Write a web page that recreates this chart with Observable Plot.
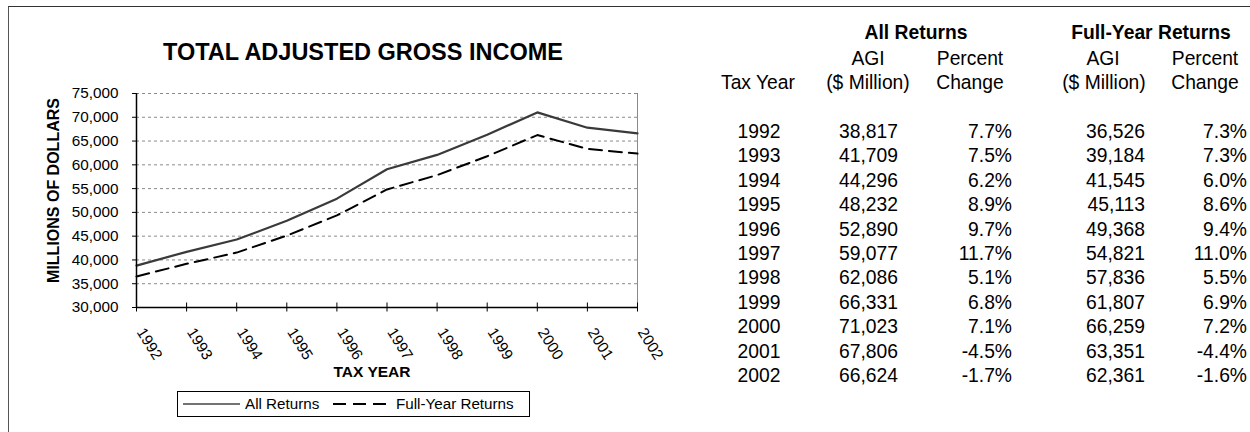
<!DOCTYPE html>
<html><head><meta charset="utf-8">
<script src="https://cdn.jsdelivr.net/npm/d3@7"></script>
<script src="https://cdn.jsdelivr.net/npm/@observablehq/plot@0.6"></script>
<style>
body{margin:0;background:#fff;font-family:"Liberation Sans",Arial,sans-serif;color:#000}
#page{position:relative;width:1250px;height:432px;overflow:hidden}
#chart{position:absolute;left:0;top:0}
#border{position:absolute;left:8px;top:6px;width:1300px;height:500px;border-top:1px solid #333;border-left:1px solid #555;pointer-events:none}
.t{position:absolute;white-space:nowrap;height:24px;line-height:24px;width:220px}
.c{text-align:center}
.r{text-align:right}
.tb{font-size:19.3px}
.b{font-weight:bold}
#title{position:absolute;left:113px;width:500px;top:38px;height:28px;line-height:28px;text-align:center;font-weight:bold;font-size:23.5px;white-space:nowrap}
#legend{position:absolute;left:177px;top:391px;width:353px;height:26px;box-sizing:border-box;border:1px solid #000}
.lg{position:absolute;top:0;height:24px;line-height:24px;font-size:15.2px;white-space:nowrap}
.ls{position:absolute;top:0}
</style></head><body>
<div id="page">
  <div id="chart"></div>
  <div id="title"></div>
  <div id="table"></div>
  <div id="legend"></div>
  <div id="border"></div>
</div>
<script>
// ---- data ----
const years = [1992, 1993, 1994, 1995, 1996, 1997, 1998, 1999, 2000, 2001, 2002];
const allReturnsAGI = [38817, 41709, 44296, 48232, 52890, 59077, 62086, 66331, 71023, 67806, 66624];
const allReturnsPct = [7.7, 7.5, 6.2, 8.9, 9.7, 11.7, 5.1, 6.8, 7.1, -4.5, -1.7];
const fullYearAGI = [36526, 39184, 41545, 45113, 49368, 54821, 57836, 61807, 66259, 63351, 62361];
const fullYearPct = [7.3, 7.3, 6.0, 8.6, 9.4, 11.0, 5.5, 6.9, 7.2, -4.4, -1.6];
const yTicks = [30000, 35000, 40000, 45000, 50000, 55000, 60000, 65000, 70000, 75000];
const seriesNames = ["All Returns", "Full-Year Returns"];
const chartTitle = "TOTAL ADJUSTED GROSS INCOME";
const yLabel = "MILLIONS OF DOLLARS";
const xLabel = "TAX YEAR";
const groupHeaders = ["All Returns", "Full-Year Returns"];
const subHeaders1 = ["AGI", "Percent", "AGI", "Percent"];
const subHeaders2 = ["Tax Year", "($ Million)", "Change", "($ Million)", "Change"];

// ---- chart ----
const rows = years.flatMap((yr, i) => [
  {year: yr, value: allReturnsAGI[i], series: seriesNames[0]},
  {year: yr, value: fullYearAGI[i], series: seriesNames[1]}
]);
const fmt = d3.format(",");
const x0 = d3.min(years), x1 = d3.max(years);
const y0 = d3.min(yTicks);

const chart = Plot.plot({
  width: 1250, height: 432,
  marginLeft: 136, marginRight: 613, marginTop: 93, marginBottom: 125,
  x: {domain: [x0, x1]},
  y: {domain: [y0, d3.max(yTicks)]},
  style: {fontFamily: '"Liberation Sans", Arial, sans-serif', fontSize: "15.3px", color: "#000", background: "transparent", overflow: "visible"},
  marks: [
    Plot.gridY(yTicks, {stroke: "#8a8a8a", strokeOpacity: 1, strokeDasharray: "3,3", strokeWidth: 1}),
    Plot.ruleX([x1], {stroke: "#8a8a8a", strokeWidth: 1}),
    Plot.lineY(rows.filter(d => d.series === seriesNames[0]), {x: "year", y: "value", stroke: "#3a3a3a", strokeWidth: 2.2}),
    Plot.lineY(rows.filter(d => d.series === seriesNames[1]), {x: "year", y: "value", stroke: "#000", strokeWidth: 2, strokeDasharray: "13,7"}),
    Plot.ruleY([y0], {stroke: "#000", strokeWidth: 1.5}),
    Plot.ruleX([x0], {stroke: "#000", strokeWidth: 1.5}),
    Plot.axisY({ticks: yTicks, tickSize: 4, tickPadding: 14, tickFormat: fmt, label: null}),
    Plot.axisX({ticks: years, tickSize: 9, dy: -4.5, tickFormat: () => "", label: null}),
    Plot.text(years, {x: d => d, text: d => String(d), frameAnchor: "bottom", rotate: 58, textAnchor: "start", lineAnchor: "middle", dy: 22, dx: 4}),
    Plot.text([yLabel], {frameAnchor: "left", text: d => d, rotate: -90, textAnchor: "middle", dx: -83, dy: -10, fontWeight: "bold", fontSize: 16}),
    Plot.text([xLabel], {frameAnchor: "bottom", text: d => d, textAnchor: "middle", dx: -15, dy: 69, fontWeight: "bold", fontSize: 15.5})
  ]
});
document.getElementById("chart").appendChild(chart);
document.getElementById("title").textContent = chartTitle;

// ---- table ----
const table = document.getElementById("table");
function put(text, xPos, yCenter, align, extra) {
  const el = document.createElement("div");
  el.className = "t tb " + (align === "c" ? "c" : "r") + (extra ? " " + extra : "");
  el.textContent = text;
  el.style.left = (align === "c" ? xPos - 110 : xPos - 220) + "px";
  el.style.top = (yCenter - 12) + "px";
  table.appendChild(el);
}
put(groupHeaders[0], 916, 33, "c", "b");
put(groupHeaders[1], 1151, 33, "c", "b");
[868, 970, 1103, 1205].forEach((xc, i) => put(subHeaders1[i], xc, 59, "c"));
[758, 868, 970, 1104, 1205].forEach((xc, i) => put(subHeaders2[i], xc, 83, "c"));
const pct = v => v.toFixed(1) + "%";
years.forEach((yr, i) => {
  const yc = 132 + i * 24.4;
  put(String(yr), 759, yc, "c");
  put(fmt(allReturnsAGI[i]), 898, yc, "r");
  put(pct(allReturnsPct[i]), 1012, yc, "r");
  put(fmt(fullYearAGI[i]), 1145, yc, "r");
  put(pct(fullYearPct[i]), 1247, yc, "r");
});

// ---- legend ----
const legend = document.getElementById("legend");
const NS = "http://www.w3.org/2000/svg";
function sample(left, stroke, width, dash) {
  const s = document.createElementNS(NS, "svg");
  s.setAttribute("class", "ls");
  s.setAttribute("width", 58); s.setAttribute("height", 24);
  s.style.left = left + "px";
  const l = document.createElementNS(NS, "line");
  l.setAttribute("x1", 0); l.setAttribute("x2", 57);
  l.setAttribute("y1", 12); l.setAttribute("y2", 12);
  l.setAttribute("stroke", stroke); l.setAttribute("stroke-width", width);
  if (dash) l.setAttribute("stroke-dasharray", dash);
  s.appendChild(l);
  legend.appendChild(s);
}
function label(text, left) {
  const el = document.createElement("div");
  el.className = "lg"; el.textContent = text; el.style.left = left + "px";
  legend.appendChild(el);
}
sample(5, "#444", 1.3);
label(seriesNames[0], 67);
sample(155, "#000", 2.2, "13,7");
label(seriesNames[1], 218);
</script>
</body></html>
